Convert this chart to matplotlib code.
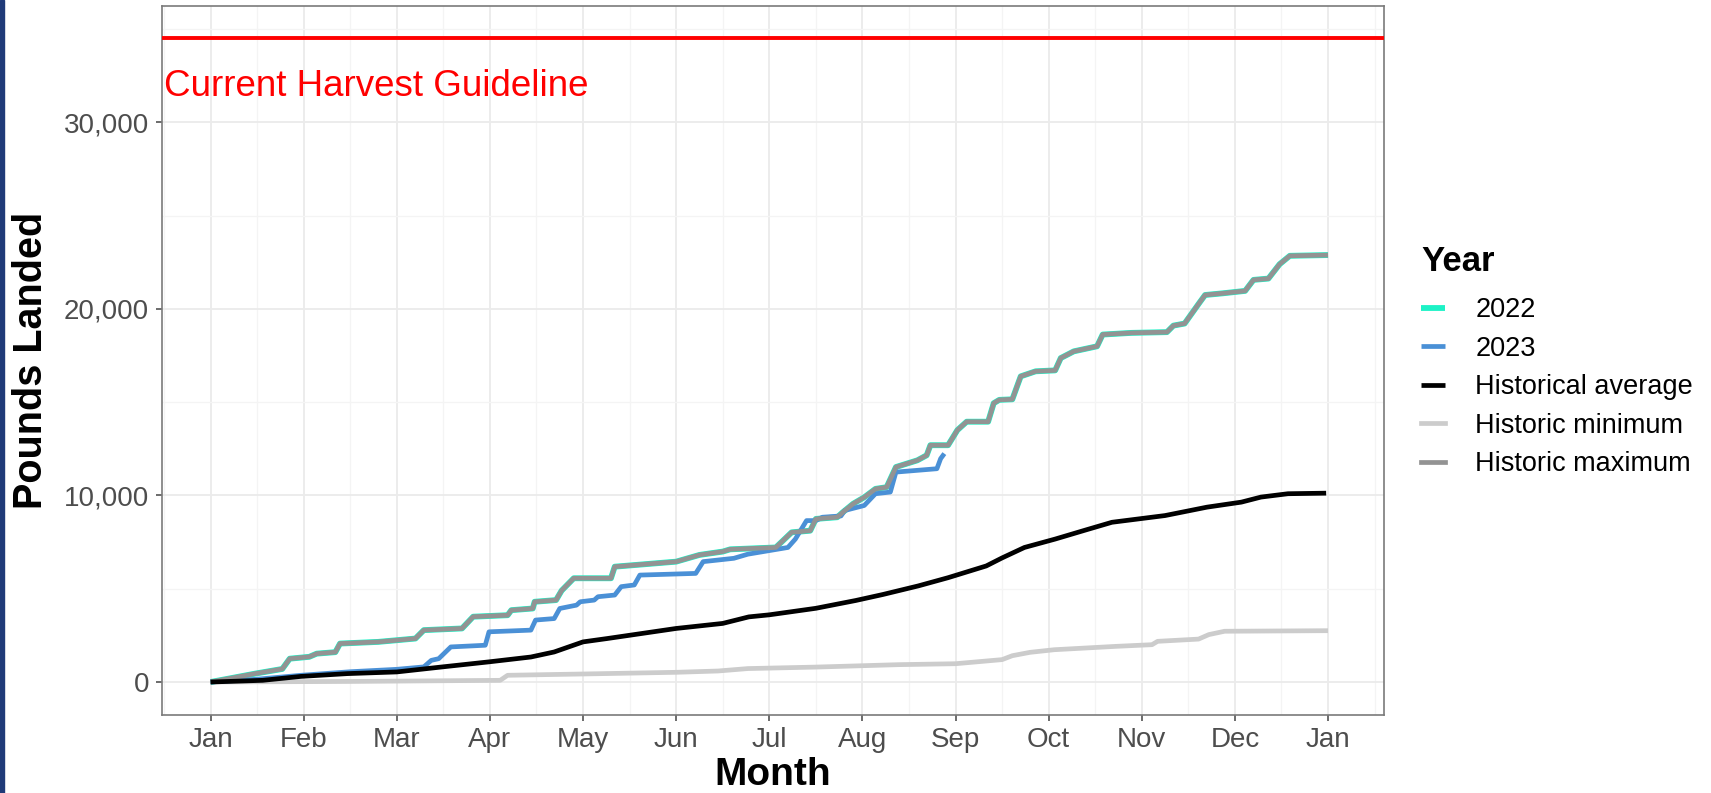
import matplotlib
matplotlib.use("Agg")
import matplotlib.pyplot as plt
from matplotlib.patches import Rectangle
from matplotlib.ticker import FuncFormatter, MultipleLocator

plt.rcParams['font.family'] = ['Liberation Sans', 'DejaVu Sans']

# month index: 1 = Jan 1, 13 = Jan 1 of next year
month_labels = ['Jan', 'Feb', 'Mar', 'Apr', 'May', 'Jun', 'Jul', 'Aug',
                'Sep', 'Oct', 'Nov', 'Dec', 'Jan']

max_x = [1.0, 1.48, 1.77, 1.85, 2.06, 2.14, 2.34, 2.39, 2.8, 3.2, 3.29, 3.7, 3.82,
         4.19, 4.23, 4.46, 4.48, 4.71, 4.77, 4.9, 5.3, 5.34, 6.0, 6.25, 6.5, 6.58,
         7.07, 7.24, 7.44, 7.5, 7.73, 7.79, 7.9, 8.02, 8.14, 8.26, 8.36, 8.59, 8.69,
         8.73, 8.92, 9.02, 9.12, 9.35, 9.41, 9.47, 9.61, 9.7, 9.86, 10.07, 10.13,
         10.27, 10.52, 10.58, 10.89, 11.27, 11.34, 11.46, 11.62, 11.68, 11.87,
         12.11, 12.2, 12.36, 12.48, 12.59, 13.0]
max_y = [0, 450, 700, 1250, 1350, 1520, 1600, 2060, 2150, 2330, 2780, 2870, 3500,
         3580, 3850, 3940, 4300, 4390, 4900, 5560, 5560, 6180, 6450, 6810, 6990, 7110,
         7210, 8020, 8110, 8740, 8830, 9100, 9550, 9900, 10350, 10440, 11520, 11880,
         12150, 12690, 12690, 13500, 13950, 13950, 14940, 15120, 15150, 16380, 16650,
         16700, 17360, 17720, 17990, 18620, 18710, 18750, 19100, 19210, 20330, 20740,
         20830, 20960, 21550, 21620, 22390, 22840, 22880]

# 2022 was the record year, so it runs on top of the historic maximum
y2022_x = max_x
y2022_y = max_y

y2023_x = [1.0, 1.5, 1.97, 2.5, 3.0, 3.29, 3.37, 3.45, 3.58, 3.95, 3.99, 4.44, 4.49,
           4.69, 4.75, 4.93, 4.97, 5.12, 5.16, 5.34, 5.41, 5.55, 5.61, 6.21, 6.29,
           6.62, 6.77, 7.2, 7.28, 7.4, 7.5, 7.57, 7.77, 7.81, 8.02, 8.14, 8.3, 8.36,
           8.8, 8.84, 8.88]
y2023_y = [0, 150, 360, 550, 680, 810, 1160, 1250, 1880, 1970, 2690, 2780, 3320,
           3400, 3940, 4120, 4300, 4390, 4570, 4660, 5110, 5200, 5730, 5820, 6450,
           6630, 6850, 7210, 7660, 8650, 8650, 8830, 8900, 9190, 9460, 10090, 10180,
           11250, 11430, 11970, 12240]

avg_x = [1.0, 1.56, 1.97, 2.47, 3.0, 3.49, 3.99, 4.44, 4.69, 5.0, 5.26, 5.63, 6.0,
         6.5, 6.78, 7.0, 7.5, 7.93, 8.22, 8.6, 8.92, 9.33, 9.5, 9.74, 10.07, 10.4,
         10.68, 11.25, 11.7, 12.07, 12.28, 12.57, 12.98]
avg_y = [0, 90, 300, 450, 540, 810, 1080, 1340, 1610, 2150, 2330, 2600, 2870,
         3140, 3490, 3600, 3950, 4370, 4690, 5150, 5590, 6220, 6650, 7210, 7660, 8150,
         8560, 8920, 9370, 9640, 9910, 10090, 10120]

min_x = [1.0, 2.5, 4.11, 4.19, 5.0, 6.0, 6.45, 6.77, 7.5, 8.39, 9.0, 9.5, 9.61,
         9.8, 10.06, 10.72, 11.11, 11.17, 11.61, 11.72, 11.89, 13.0]
min_y = [0, 30, 90, 360, 430, 520, 590, 720, 800, 930, 980, 1200, 1410,
         1590, 1730, 1910, 2000, 2180, 2300, 2540, 2720, 2750]

guideline = 34530

fig = plt.figure(figsize=(17.11, 7.93), dpi=100)
ax = fig.add_axes([161.5 / 1711, 1 - 714.7 / 793, (1383.6 - 161.5) / 1711, (714.7 - 5.5) / 793])

lw = 3.4
ax.plot(min_x, min_y, color='#CCCCCC', lw=lw, solid_capstyle='butt', zorder=3)
ax.plot(y2022_x, y2022_y, color='#1DF2C6', lw=lw + 0.8, solid_capstyle='butt', zorder=4, label='2022')
ax.plot(y2023_x, y2023_y, color='#4A90D6', lw=lw, solid_capstyle='butt', zorder=5, label='2023')
ax.plot(max_x, max_y, color='#939393', lw=lw, solid_capstyle='butt', zorder=6)
ax.plot(avg_x, avg_y, color='black', lw=lw, solid_capstyle='butt', zorder=7, label='Historical average')
ax.plot([], [], color='#CCCCCC', lw=lw, label='Historic minimum')
ax.plot([], [], color='#939393', lw=lw, label='Historic maximum')

ax.axhline(guideline, color='red', lw=2.8, zorder=8)
ax.text(0.5, 31900, 'Current Harvest Guideline', color='red', fontsize=26.5,
        ha='left', va='center', zorder=9)

ax.set_xlim(0.473, 13.597)
ax.set_ylim(-1752, 36254)
ax.set_xticks(range(1, 14))
ax.set_xticklabels(month_labels)
ax.xaxis.set_minor_locator(MultipleLocator(0.5))
ax.yaxis.set_major_locator(MultipleLocator(10000))
ax.yaxis.set_minor_locator(MultipleLocator(5000))
ax.yaxis.set_major_formatter(FuncFormatter(lambda v, p: f'{int(v):,}'))

ax.grid(which='major', color='#EBEBEB', lw=1.3, zorder=0)
ax.grid(which='minor', color='#F4F4F4', lw=0.9, zorder=0)
ax.set_axisbelow(True)
for s in ax.spines.values():
    s.set_color('#7A7A7A')
    s.set_linewidth(1.2)
ax.tick_params(which='major', length=4, width=1.1, color='#444444',
               labelsize=20, labelcolor='#4D4D4D', pad=5)
ax.tick_params(which='minor', length=0)

ax.set_xlabel('Month', fontsize=28, fontweight='bold')
ax.xaxis.label.set_va('center')
ax.xaxis.set_label_coords(0.5, -0.085)
ax.set_ylabel('Pounds Landed', fontsize=28.5, fontweight='bold')
ax.yaxis.label.set_va('center')
ax.yaxis.set_label_coords(-0.107, 0.5)

leg = ax.legend(title='Year', loc='upper left', bbox_to_anchor=(1421 / 1711, 1 - 245 / 793),
                bbox_transform=fig.transFigure, frameon=False, fontsize=19.5,
                handlelength=0.9, handletextpad=1.1, labelspacing=0.46,
                borderaxespad=0, borderpad=0)
leg.get_title().set_fontsize(25)
leg.get_title().set_fontweight('bold')
leg._legend_box.align = 'left'
leg._legend_box.sep = 14

fig.patches.append(Rectangle((0, 0), 4 / 1711, 1, transform=fig.transFigure,
                             color='#1F3A78', zorder=10))

fig.savefig('out.png', dpi=100)
